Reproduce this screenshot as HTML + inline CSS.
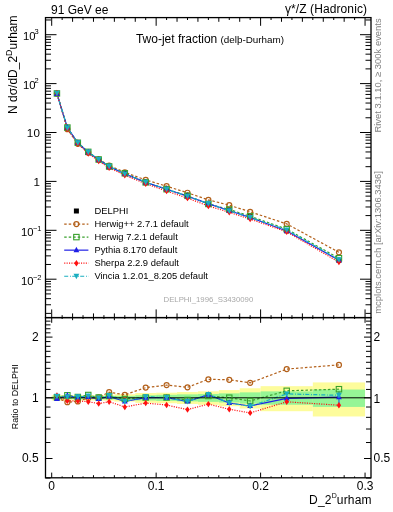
<!DOCTYPE html><html><head><meta charset="utf-8"><style>html,body{margin:0;padding:0;background:#fff;overflow:hidden}svg{display:block;will-change:transform}text{font-family:"Liberation Sans",sans-serif;fill:#000}</style></head><body>
<svg width="393" height="512" viewBox="0 0 393 512">
<rect x="51.7" y="395.21" width="10.45" height="5.26" fill="#fdfc9c"/>
<rect x="62.15" y="395.21" width="10.45" height="5.26" fill="#fdfc9c"/>
<rect x="72.59" y="395.21" width="10.44" height="5.26" fill="#fdfc9c"/>
<rect x="83.03" y="395.21" width="10.45" height="5.26" fill="#fdfc9c"/>
<rect x="93.48" y="395.21" width="10.45" height="5.26" fill="#fdfc9c"/>
<rect x="103.93" y="395.04" width="10.44" height="5.61" fill="#fdfc9c"/>
<rect x="114.37" y="394.2" width="20.89" height="7.36" fill="#fdfc9c"/>
<rect x="135.26" y="393.03" width="20.89" height="9.82" fill="#fdfc9c"/>
<rect x="156.15" y="392.7" width="20.89" height="10.52" fill="#fdfc9c"/>
<rect x="177.04" y="392.04" width="20.89" height="11.93" fill="#fdfc9c"/>
<rect x="197.93" y="391.3" width="20.89" height="13.51" fill="#fdfc9c"/>
<rect x="218.82" y="390.09" width="20.89" height="16.16" fill="#fdfc9c"/>
<rect x="239.71" y="388.27" width="20.89" height="20.23" fill="#fdfc9c"/>
<rect x="260.6" y="386.17" width="52.22" height="25.04" fill="#fdfc9c"/>
<rect x="312.82" y="382.42" width="52.22" height="34.05" fill="#fdfc9c"/>
<rect x="51.7" y="396.5" width="10.45" height="2.63" fill="#96f596"/>
<rect x="62.15" y="396.5" width="10.45" height="2.63" fill="#96f596"/>
<rect x="72.59" y="396.5" width="10.44" height="2.63" fill="#96f596"/>
<rect x="83.03" y="396.5" width="10.45" height="2.63" fill="#96f596"/>
<rect x="93.48" y="396.41" width="10.45" height="2.8" fill="#96f596"/>
<rect x="103.93" y="396.32" width="10.44" height="2.98" fill="#96f596"/>
<rect x="114.37" y="395.89" width="20.89" height="3.85" fill="#96f596"/>
<rect x="135.26" y="395.21" width="20.89" height="5.26" fill="#96f596"/>
<rect x="156.15" y="394.79" width="20.89" height="6.13" fill="#96f596"/>
<rect x="177.04" y="394.37" width="20.89" height="7.01" fill="#96f596"/>
<rect x="197.93" y="393.95" width="20.89" height="7.89" fill="#96f596"/>
<rect x="218.82" y="393.36" width="20.89" height="9.12" fill="#96f596"/>
<rect x="239.71" y="392.37" width="20.89" height="11.22" fill="#96f596"/>
<rect x="260.6" y="391.39" width="52.22" height="13.34" fill="#96f596"/>
<rect x="312.82" y="389.53" width="52.22" height="17.4" fill="#96f596"/>
<line x1="338.94" y1="391.6" x2="338.94" y2="402.9" stroke="#1f6fe0" stroke-width="1.2"/>
<g>
<polyline points="56.92,398 67.37,402.2 77.81,401.4 88.26,398 98.7,397.3 109.15,392.2 124.82,394.8 145.7,387.6 166.59,385.1 187.49,387.3 208.38,379.3 229.27,379.8 250.16,382.8 286.71,369.1 338.94,364.9" fill="none" stroke="#b3601a" stroke-width="1.2" stroke-dasharray="2.5,2"/>
<polyline points="56.92,397.3 67.37,395.3 77.81,397 88.26,395 98.7,397.5 109.15,396 124.82,399 145.7,397.5 166.59,397.5 187.49,400 208.38,396 229.27,397.7 250.16,401 286.71,390.8 338.94,389.2" fill="none" stroke="#38a02c" stroke-width="1.2" stroke-dasharray="2.5,2"/>
<polyline points="56.92,399 67.37,395.5 77.81,397.5 88.26,397 98.7,399 109.15,396.5 124.82,401.5 145.7,397.7 166.59,397.7 187.49,401.5 208.38,394.7 229.27,403 250.16,406 286.71,398.3 338.94,397.2" fill="none" stroke="#1f1fe6" stroke-width="1.2"/>
<polyline points="56.92,395.5 67.37,400.9 77.81,400.9 88.26,401.7 98.7,403.6 109.15,401.7 124.82,407 145.7,403.1 166.59,405 187.49,409.6 208.38,404.1 229.27,409.3 250.16,412.9 286.71,401.8 338.94,405.2" fill="none" stroke="#ff1010" stroke-width="1.2" stroke-dasharray="1.1,1.3"/>
<polyline points="56.92,396.3 67.37,396.8 77.81,396.8 88.26,396 98.7,397.9 109.15,395.4 124.82,401.4 145.7,396.8 166.59,397.5 187.49,401.5 208.38,394.5 229.27,403 250.16,406.3 286.71,393.9 338.94,395.3" fill="none" stroke="#19aec0" stroke-width="1.2" stroke-dasharray="4,1.8,0.9,1.3"/>
<line x1="45.5" y1="397.8" x2="371" y2="397.8" stroke="#000" stroke-width="1"/>
<circle cx="56.92" cy="398" r="2.5" fill="none" stroke="#b3601a" stroke-width="1.2"/>
<circle cx="67.37" cy="402.2" r="2.5" fill="none" stroke="#b3601a" stroke-width="1.2"/>
<circle cx="77.81" cy="401.4" r="2.5" fill="none" stroke="#b3601a" stroke-width="1.2"/>
<circle cx="88.26" cy="398" r="2.5" fill="none" stroke="#b3601a" stroke-width="1.2"/>
<circle cx="98.7" cy="397.3" r="2.5" fill="none" stroke="#b3601a" stroke-width="1.2"/>
<circle cx="109.15" cy="392.2" r="2.5" fill="none" stroke="#b3601a" stroke-width="1.2"/>
<circle cx="124.82" cy="394.8" r="2.5" fill="none" stroke="#b3601a" stroke-width="1.2"/>
<circle cx="145.7" cy="387.6" r="2.5" fill="none" stroke="#b3601a" stroke-width="1.2"/>
<circle cx="166.59" cy="385.1" r="2.5" fill="none" stroke="#b3601a" stroke-width="1.2"/>
<circle cx="187.49" cy="387.3" r="2.5" fill="none" stroke="#b3601a" stroke-width="1.2"/>
<circle cx="208.38" cy="379.3" r="2.5" fill="none" stroke="#b3601a" stroke-width="1.2"/>
<circle cx="229.27" cy="379.8" r="2.5" fill="none" stroke="#b3601a" stroke-width="1.2"/>
<circle cx="250.16" cy="382.8" r="2.5" fill="none" stroke="#b3601a" stroke-width="1.2"/>
<circle cx="286.71" cy="369.1" r="2.5" fill="none" stroke="#b3601a" stroke-width="1.2"/>
<circle cx="338.94" cy="364.9" r="2.5" fill="none" stroke="#b3601a" stroke-width="1.2"/>
<rect x="54.22" y="394.6" width="5.4" height="5.4" fill="none" stroke="#38a02c" stroke-width="1.1"/>
<rect x="64.67" y="392.6" width="5.4" height="5.4" fill="none" stroke="#38a02c" stroke-width="1.1"/>
<rect x="75.11" y="394.3" width="5.4" height="5.4" fill="none" stroke="#38a02c" stroke-width="1.1"/>
<rect x="85.56" y="392.3" width="5.4" height="5.4" fill="none" stroke="#38a02c" stroke-width="1.1"/>
<rect x="96" y="394.8" width="5.4" height="5.4" fill="none" stroke="#38a02c" stroke-width="1.1"/>
<rect x="106.45" y="393.3" width="5.4" height="5.4" fill="none" stroke="#38a02c" stroke-width="1.1"/>
<rect x="122.12" y="396.3" width="5.4" height="5.4" fill="none" stroke="#38a02c" stroke-width="1.1"/>
<rect x="143" y="394.8" width="5.4" height="5.4" fill="none" stroke="#38a02c" stroke-width="1.1"/>
<rect x="163.9" y="394.8" width="5.4" height="5.4" fill="none" stroke="#38a02c" stroke-width="1.1"/>
<rect x="184.79" y="397.3" width="5.4" height="5.4" fill="none" stroke="#38a02c" stroke-width="1.1"/>
<rect x="205.68" y="393.3" width="5.4" height="5.4" fill="none" stroke="#38a02c" stroke-width="1.1"/>
<rect x="226.57" y="395" width="5.4" height="5.4" fill="none" stroke="#38a02c" stroke-width="1.1"/>
<rect x="247.46" y="398.3" width="5.4" height="5.4" fill="none" stroke="#38a02c" stroke-width="1.1"/>
<rect x="284.01" y="388.1" width="5.4" height="5.4" fill="none" stroke="#38a02c" stroke-width="1.1"/>
<rect x="336.24" y="386.5" width="5.4" height="5.4" fill="none" stroke="#38a02c" stroke-width="1.1"/>
<path d="M56.92 395.5l2.9 5.6h-5.8z" fill="#1f1fe6"/>
<path d="M67.37 392l2.9 5.6h-5.8z" fill="#1f1fe6"/>
<path d="M77.81 394l2.9 5.6h-5.8z" fill="#1f1fe6"/>
<path d="M88.26 393.5l2.9 5.6h-5.8z" fill="#1f1fe6"/>
<path d="M98.7 395.5l2.9 5.6h-5.8z" fill="#1f1fe6"/>
<path d="M109.15 393l2.9 5.6h-5.8z" fill="#1f1fe6"/>
<path d="M124.82 398l2.9 5.6h-5.8z" fill="#1f1fe6"/>
<path d="M145.7 394.2l2.9 5.6h-5.8z" fill="#1f1fe6"/>
<path d="M166.59 394.2l2.9 5.6h-5.8z" fill="#1f1fe6"/>
<path d="M187.49 398l2.9 5.6h-5.8z" fill="#1f1fe6"/>
<path d="M208.38 391.2l2.9 5.6h-5.8z" fill="#1f1fe6"/>
<path d="M229.27 399.5l2.9 5.6h-5.8z" fill="#1f1fe6"/>
<path d="M250.16 402.5l2.9 5.6h-5.8z" fill="#1f1fe6"/>
<path d="M286.71 394.8l2.9 5.6h-5.8z" fill="#1f1fe6"/>
<path d="M338.94 393.7l2.9 5.6h-5.8z" fill="#1f1fe6"/>
<path d="M56.92 392.3l2.2 3.2l-2.2 3.2l-2.2-3.2z" fill="#ff1010"/>
<path d="M67.37 397.7l2.2 3.2l-2.2 3.2l-2.2-3.2z" fill="#ff1010"/>
<path d="M77.81 397.7l2.2 3.2l-2.2 3.2l-2.2-3.2z" fill="#ff1010"/>
<path d="M88.26 398.5l2.2 3.2l-2.2 3.2l-2.2-3.2z" fill="#ff1010"/>
<path d="M98.7 400.4l2.2 3.2l-2.2 3.2l-2.2-3.2z" fill="#ff1010"/>
<path d="M109.15 398.5l2.2 3.2l-2.2 3.2l-2.2-3.2z" fill="#ff1010"/>
<path d="M124.82 403.8l2.2 3.2l-2.2 3.2l-2.2-3.2z" fill="#ff1010"/>
<path d="M145.7 399.9l2.2 3.2l-2.2 3.2l-2.2-3.2z" fill="#ff1010"/>
<path d="M166.59 401.8l2.2 3.2l-2.2 3.2l-2.2-3.2z" fill="#ff1010"/>
<path d="M187.49 406.4l2.2 3.2l-2.2 3.2l-2.2-3.2z" fill="#ff1010"/>
<path d="M208.38 400.9l2.2 3.2l-2.2 3.2l-2.2-3.2z" fill="#ff1010"/>
<path d="M229.27 406.1l2.2 3.2l-2.2 3.2l-2.2-3.2z" fill="#ff1010"/>
<path d="M250.16 409.7l2.2 3.2l-2.2 3.2l-2.2-3.2z" fill="#ff1010"/>
<path d="M286.71 398.6l2.2 3.2l-2.2 3.2l-2.2-3.2z" fill="#ff1010"/>
<path d="M338.94 402l2.2 3.2l-2.2 3.2l-2.2-3.2z" fill="#ff1010"/>
<path d="M56.92 399.4l2.9 -5.6h-5.8z" fill="#19aec0"/>
<path d="M67.37 399.9l2.9 -5.6h-5.8z" fill="#19aec0"/>
<path d="M77.81 399.9l2.9 -5.6h-5.8z" fill="#19aec0"/>
<path d="M88.26 399.1l2.9 -5.6h-5.8z" fill="#19aec0"/>
<path d="M98.7 401l2.9 -5.6h-5.8z" fill="#19aec0"/>
<path d="M109.15 398.5l2.9 -5.6h-5.8z" fill="#19aec0"/>
<path d="M124.82 404.5l2.9 -5.6h-5.8z" fill="#19aec0"/>
<path d="M145.7 399.9l2.9 -5.6h-5.8z" fill="#19aec0"/>
<path d="M166.59 400.6l2.9 -5.6h-5.8z" fill="#19aec0"/>
<path d="M187.49 404.6l2.9 -5.6h-5.8z" fill="#19aec0"/>
<path d="M208.38 397.6l2.9 -5.6h-5.8z" fill="#19aec0"/>
<path d="M229.27 406.1l2.9 -5.6h-5.8z" fill="#19aec0"/>
<path d="M250.16 409.4l2.9 -5.6h-5.8z" fill="#19aec0"/>
<path d="M286.71 397l2.9 -5.6h-5.8z" fill="#19aec0"/>
<path d="M338.94 398.4l2.9 -5.6h-5.8z" fill="#19aec0"/>
</g>
<g>
<rect x="54.42" y="91.06" width="5" height="5" fill="#000"/>
<rect x="64.87" y="125.64" width="5" height="5" fill="#000"/>
<rect x="75.31" y="140.44" width="5" height="5" fill="#000"/>
<rect x="85.76" y="150.04" width="5" height="5" fill="#000"/>
<rect x="96.2" y="157.08" width="5" height="5" fill="#000"/>
<rect x="106.65" y="164.38" width="5" height="5" fill="#000"/>
<rect x="122.32" y="170.53" width="5" height="5" fill="#000"/>
<rect x="143.2" y="179.94" width="5" height="5" fill="#000"/>
<rect x="164.09" y="186.77" width="5" height="5" fill="#000"/>
<rect x="184.99" y="192.8" width="5" height="5" fill="#000"/>
<rect x="205.88" y="201.9" width="5" height="5" fill="#000"/>
<rect x="226.77" y="207.04" width="5" height="5" fill="#000"/>
<rect x="247.66" y="212.94" width="5" height="5" fill="#000"/>
<rect x="284.21" y="228.35" width="5" height="5" fill="#000"/>
<rect x="336.44" y="257.81" width="5" height="5" fill="#000"/>
<polyline points="56.92,93.61 67.37,129.21 77.81,143.82 88.26,152.59 98.7,159.45 109.15,165.52 124.82,172.3 145.7,179.97 166.59,186.19 187.49,192.76 208.38,199.91 229.27,205.17 250.16,211.8 286.71,223.89 338.94,252.33" fill="none" stroke="#b3601a" stroke-width="1.2" stroke-dasharray="2.5,2"/>
<polyline points="56.92,93.44 67.37,127.54 77.81,142.75 88.26,151.86 98.7,159.5 109.15,166.45 124.82,173.32 145.7,182.37 166.59,189.2 187.49,195.84 208.38,203.96 229.27,209.51 250.16,216.21 286.71,229.15 338.94,258.22" fill="none" stroke="#38a02c" stroke-width="1.2" stroke-dasharray="2.5,2"/>
<polyline points="56.92,93.85 67.37,127.58 77.81,142.87 88.26,152.34 98.7,159.87 109.15,166.57 124.82,173.92 145.7,182.42 166.59,189.25 187.49,196.2 208.38,203.65 229.27,210.8 250.16,217.43 286.71,230.97 338.94,260.16" fill="none" stroke="#1f1fe6" stroke-width="1.2"/>
<polyline points="56.92,93.01 67.37,128.89 77.81,143.69 88.26,153.48 98.7,160.98 109.15,167.83 124.82,175.26 145.7,183.73 166.59,191.02 187.49,198.16 208.38,205.93 229.27,212.33 250.16,219.1 286.71,231.82 338.94,262.1" fill="none" stroke="#ff1010" stroke-width="1.2" stroke-dasharray="1.1,1.3"/>
<polyline points="56.92,93.2 67.37,127.9 77.81,142.7 88.26,152.1 98.7,159.6 109.15,166.3 124.82,173.9 145.7,182.2 166.59,189.2 187.49,196.2 208.38,203.6 229.27,210.8 250.16,217.5 286.71,229.9 338.94,259.7" fill="none" stroke="#19aec0" stroke-width="1.2" stroke-dasharray="4,1.8,0.9,1.3"/>
<circle cx="56.92" cy="93.61" r="2.5" fill="none" stroke="#b3601a" stroke-width="1.2"/>
<circle cx="67.37" cy="129.21" r="2.5" fill="none" stroke="#b3601a" stroke-width="1.2"/>
<circle cx="77.81" cy="143.82" r="2.5" fill="none" stroke="#b3601a" stroke-width="1.2"/>
<circle cx="88.26" cy="152.59" r="2.5" fill="none" stroke="#b3601a" stroke-width="1.2"/>
<circle cx="98.7" cy="159.45" r="2.5" fill="none" stroke="#b3601a" stroke-width="1.2"/>
<circle cx="109.15" cy="165.52" r="2.5" fill="none" stroke="#b3601a" stroke-width="1.2"/>
<circle cx="124.82" cy="172.3" r="2.5" fill="none" stroke="#b3601a" stroke-width="1.2"/>
<circle cx="145.7" cy="179.97" r="2.5" fill="none" stroke="#b3601a" stroke-width="1.2"/>
<circle cx="166.59" cy="186.19" r="2.5" fill="none" stroke="#b3601a" stroke-width="1.2"/>
<circle cx="187.49" cy="192.76" r="2.5" fill="none" stroke="#b3601a" stroke-width="1.2"/>
<circle cx="208.38" cy="199.91" r="2.5" fill="none" stroke="#b3601a" stroke-width="1.2"/>
<circle cx="229.27" cy="205.17" r="2.5" fill="none" stroke="#b3601a" stroke-width="1.2"/>
<circle cx="250.16" cy="211.8" r="2.5" fill="none" stroke="#b3601a" stroke-width="1.2"/>
<circle cx="286.71" cy="223.89" r="2.5" fill="none" stroke="#b3601a" stroke-width="1.2"/>
<circle cx="338.94" cy="252.33" r="2.5" fill="none" stroke="#b3601a" stroke-width="1.2"/>
<rect x="54.22" y="90.74" width="5.4" height="5.4" fill="none" stroke="#38a02c" stroke-width="1.1"/>
<rect x="64.67" y="124.84" width="5.4" height="5.4" fill="none" stroke="#38a02c" stroke-width="1.1"/>
<rect x="75.11" y="140.05" width="5.4" height="5.4" fill="none" stroke="#38a02c" stroke-width="1.1"/>
<rect x="85.56" y="149.16" width="5.4" height="5.4" fill="none" stroke="#38a02c" stroke-width="1.1"/>
<rect x="96" y="156.8" width="5.4" height="5.4" fill="none" stroke="#38a02c" stroke-width="1.1"/>
<rect x="106.45" y="163.75" width="5.4" height="5.4" fill="none" stroke="#38a02c" stroke-width="1.1"/>
<rect x="122.12" y="170.62" width="5.4" height="5.4" fill="none" stroke="#38a02c" stroke-width="1.1"/>
<rect x="143" y="179.67" width="5.4" height="5.4" fill="none" stroke="#38a02c" stroke-width="1.1"/>
<rect x="163.9" y="186.5" width="5.4" height="5.4" fill="none" stroke="#38a02c" stroke-width="1.1"/>
<rect x="184.79" y="193.14" width="5.4" height="5.4" fill="none" stroke="#38a02c" stroke-width="1.1"/>
<rect x="205.68" y="201.26" width="5.4" height="5.4" fill="none" stroke="#38a02c" stroke-width="1.1"/>
<rect x="226.57" y="206.81" width="5.4" height="5.4" fill="none" stroke="#38a02c" stroke-width="1.1"/>
<rect x="247.46" y="213.51" width="5.4" height="5.4" fill="none" stroke="#38a02c" stroke-width="1.1"/>
<rect x="284.01" y="226.45" width="5.4" height="5.4" fill="none" stroke="#38a02c" stroke-width="1.1"/>
<rect x="336.24" y="255.52" width="5.4" height="5.4" fill="none" stroke="#38a02c" stroke-width="1.1"/>
<path d="M56.92 90.35l2.9 5.6h-5.8z" fill="#1f1fe6"/>
<path d="M67.37 124.08l2.9 5.6h-5.8z" fill="#1f1fe6"/>
<path d="M77.81 139.37l2.9 5.6h-5.8z" fill="#1f1fe6"/>
<path d="M88.26 148.84l2.9 5.6h-5.8z" fill="#1f1fe6"/>
<path d="M98.7 156.37l2.9 5.6h-5.8z" fill="#1f1fe6"/>
<path d="M109.15 163.07l2.9 5.6h-5.8z" fill="#1f1fe6"/>
<path d="M124.82 170.42l2.9 5.6h-5.8z" fill="#1f1fe6"/>
<path d="M145.7 178.92l2.9 5.6h-5.8z" fill="#1f1fe6"/>
<path d="M166.59 185.75l2.9 5.6h-5.8z" fill="#1f1fe6"/>
<path d="M187.49 192.7l2.9 5.6h-5.8z" fill="#1f1fe6"/>
<path d="M208.38 200.15l2.9 5.6h-5.8z" fill="#1f1fe6"/>
<path d="M229.27 207.3l2.9 5.6h-5.8z" fill="#1f1fe6"/>
<path d="M250.16 213.93l2.9 5.6h-5.8z" fill="#1f1fe6"/>
<path d="M286.71 227.47l2.9 5.6h-5.8z" fill="#1f1fe6"/>
<path d="M338.94 256.66l2.9 5.6h-5.8z" fill="#1f1fe6"/>
<path d="M56.92 89.81l2.2 3.2l-2.2 3.2l-2.2-3.2z" fill="#ff1010"/>
<path d="M67.37 125.69l2.2 3.2l-2.2 3.2l-2.2-3.2z" fill="#ff1010"/>
<path d="M77.81 140.49l2.2 3.2l-2.2 3.2l-2.2-3.2z" fill="#ff1010"/>
<path d="M88.26 150.28l2.2 3.2l-2.2 3.2l-2.2-3.2z" fill="#ff1010"/>
<path d="M98.7 157.78l2.2 3.2l-2.2 3.2l-2.2-3.2z" fill="#ff1010"/>
<path d="M109.15 164.63l2.2 3.2l-2.2 3.2l-2.2-3.2z" fill="#ff1010"/>
<path d="M124.82 172.06l2.2 3.2l-2.2 3.2l-2.2-3.2z" fill="#ff1010"/>
<path d="M145.7 180.53l2.2 3.2l-2.2 3.2l-2.2-3.2z" fill="#ff1010"/>
<path d="M166.59 187.82l2.2 3.2l-2.2 3.2l-2.2-3.2z" fill="#ff1010"/>
<path d="M187.49 194.96l2.2 3.2l-2.2 3.2l-2.2-3.2z" fill="#ff1010"/>
<path d="M208.38 202.73l2.2 3.2l-2.2 3.2l-2.2-3.2z" fill="#ff1010"/>
<path d="M229.27 209.13l2.2 3.2l-2.2 3.2l-2.2-3.2z" fill="#ff1010"/>
<path d="M250.16 215.9l2.2 3.2l-2.2 3.2l-2.2-3.2z" fill="#ff1010"/>
<path d="M286.71 228.62l2.2 3.2l-2.2 3.2l-2.2-3.2z" fill="#ff1010"/>
<path d="M338.94 258.9l2.2 3.2l-2.2 3.2l-2.2-3.2z" fill="#ff1010"/>
<path d="M56.92 96.3l2.9 -5.6h-5.8z" fill="#19aec0"/>
<path d="M67.37 131l2.9 -5.6h-5.8z" fill="#19aec0"/>
<path d="M77.81 145.8l2.9 -5.6h-5.8z" fill="#19aec0"/>
<path d="M88.26 155.2l2.9 -5.6h-5.8z" fill="#19aec0"/>
<path d="M98.7 162.7l2.9 -5.6h-5.8z" fill="#19aec0"/>
<path d="M109.15 169.4l2.9 -5.6h-5.8z" fill="#19aec0"/>
<path d="M124.82 177l2.9 -5.6h-5.8z" fill="#19aec0"/>
<path d="M145.7 185.3l2.9 -5.6h-5.8z" fill="#19aec0"/>
<path d="M166.59 192.3l2.9 -5.6h-5.8z" fill="#19aec0"/>
<path d="M187.49 199.3l2.9 -5.6h-5.8z" fill="#19aec0"/>
<path d="M208.38 206.7l2.9 -5.6h-5.8z" fill="#19aec0"/>
<path d="M229.27 213.9l2.9 -5.6h-5.8z" fill="#19aec0"/>
<path d="M250.16 220.6l2.9 -5.6h-5.8z" fill="#19aec0"/>
<path d="M286.71 233l2.9 -5.6h-5.8z" fill="#19aec0"/>
<path d="M338.94 262.8l2.9 -5.6h-5.8z" fill="#19aec0"/>
</g>
<g stroke="#000" stroke-width="1.3" fill="none">
<rect x="45.5" y="17.6" width="325.5" height="300"/>
<rect x="45.5" y="317.6" width="325.5" height="160.2"/>
</g>
<path d="M51.7 17.6L51.7 25.8M51.7 317.6L51.7 309.4M51.7 317.6L51.7 322.8M51.7 477.8L51.7 472.6M62.15 17.6L62.15 20M62.15 317.6L62.15 315.2M62.15 317.6L62.15 319M62.15 477.8L62.15 476.4M72.59 17.6L72.59 21.8M72.59 317.6L72.59 313.4M72.59 317.6L72.59 320.2M72.59 477.8L72.59 475.2M83.03 17.6L83.03 20M83.03 317.6L83.03 315.2M83.03 317.6L83.03 319M83.03 477.8L83.03 476.4M93.48 17.6L93.48 21.8M93.48 317.6L93.48 313.4M93.48 317.6L93.48 320.2M93.48 477.8L93.48 475.2M103.93 17.6L103.93 20M103.93 317.6L103.93 315.2M103.93 317.6L103.93 319M103.93 477.8L103.93 476.4M114.37 17.6L114.37 21.8M114.37 317.6L114.37 313.4M114.37 317.6L114.37 320.2M114.37 477.8L114.37 475.2M124.82 17.6L124.82 20M124.82 317.6L124.82 315.2M124.82 317.6L124.82 319M124.82 477.8L124.82 476.4M135.26 17.6L135.26 21.8M135.26 317.6L135.26 313.4M135.26 317.6L135.26 320.2M135.26 477.8L135.26 475.2M145.7 17.6L145.7 20M145.7 317.6L145.7 315.2M145.7 317.6L145.7 319M145.7 477.8L145.7 476.4M156.15 17.6L156.15 25.8M156.15 317.6L156.15 309.4M156.15 317.6L156.15 322.8M156.15 477.8L156.15 472.6M166.59 17.6L166.59 20M166.59 317.6L166.59 315.2M166.59 317.6L166.59 319M166.59 477.8L166.59 476.4M177.04 17.6L177.04 21.8M177.04 317.6L177.04 313.4M177.04 317.6L177.04 320.2M177.04 477.8L177.04 475.2M187.49 17.6L187.49 20M187.49 317.6L187.49 315.2M187.49 317.6L187.49 319M187.49 477.8L187.49 476.4M197.93 17.6L197.93 21.8M197.93 317.6L197.93 313.4M197.93 317.6L197.93 320.2M197.93 477.8L197.93 475.2M208.38 17.6L208.38 20M208.38 317.6L208.38 315.2M208.38 317.6L208.38 319M208.38 477.8L208.38 476.4M218.82 17.6L218.82 21.8M218.82 317.6L218.82 313.4M218.82 317.6L218.82 320.2M218.82 477.8L218.82 475.2M229.27 17.6L229.27 20M229.27 317.6L229.27 315.2M229.27 317.6L229.27 319M229.27 477.8L229.27 476.4M239.71 17.6L239.71 21.8M239.71 317.6L239.71 313.4M239.71 317.6L239.71 320.2M239.71 477.8L239.71 475.2M250.16 17.6L250.16 20M250.16 317.6L250.16 315.2M250.16 317.6L250.16 319M250.16 477.8L250.16 476.4M260.6 17.6L260.6 25.8M260.6 317.6L260.6 309.4M260.6 317.6L260.6 322.8M260.6 477.8L260.6 472.6M271.05 17.6L271.05 20M271.05 317.6L271.05 315.2M271.05 317.6L271.05 319M271.05 477.8L271.05 476.4M281.49 17.6L281.49 21.8M281.49 317.6L281.49 313.4M281.49 317.6L281.49 320.2M281.49 477.8L281.49 475.2M291.94 17.6L291.94 20M291.94 317.6L291.94 315.2M291.94 317.6L291.94 319M291.94 477.8L291.94 476.4M302.38 17.6L302.38 21.8M302.38 317.6L302.38 313.4M302.38 317.6L302.38 320.2M302.38 477.8L302.38 475.2M312.82 17.6L312.82 20M312.82 317.6L312.82 315.2M312.82 317.6L312.82 319M312.82 477.8L312.82 476.4M323.27 17.6L323.27 21.8M323.27 317.6L323.27 313.4M323.27 317.6L323.27 320.2M323.27 477.8L323.27 475.2M333.72 17.6L333.72 20M333.72 317.6L333.72 315.2M333.72 317.6L333.72 319M333.72 477.8L333.72 476.4M344.16 17.6L344.16 21.8M344.16 317.6L344.16 313.4M344.16 317.6L344.16 320.2M344.16 477.8L344.16 475.2M354.6 17.6L354.6 20M354.6 317.6L354.6 315.2M354.6 317.6L354.6 319M354.6 477.8L354.6 476.4M365.05 17.6L365.05 25.8M365.05 317.6L365.05 309.4M365.05 317.6L365.05 322.8M365.05 477.8L365.05 472.6M45.5 313.38L51 313.38M371 313.38L365.5 313.38M45.5 304.77L51 304.77M371 304.77L365.5 304.77M45.5 298.66L51 298.66M371 298.66L365.5 298.66M45.5 293.92L51 293.92M371 293.92L365.5 293.92M45.5 290.05L51 290.05M371 290.05L365.5 290.05M45.5 286.77L51 286.77M371 286.77L365.5 286.77M45.5 283.94L51 283.94M371 283.94L365.5 283.94M45.5 281.44L51 281.44M371 281.44L365.5 281.44M45.5 279.2L56.5 279.2M371 279.2L360 279.2M45.5 264.48L51 264.48M371 264.48L365.5 264.48M45.5 255.87L51 255.87M371 255.87L365.5 255.87M45.5 249.76L51 249.76M371 249.76L365.5 249.76M45.5 245.02L51 245.02M371 245.02L365.5 245.02M45.5 241.15L51 241.15M371 241.15L365.5 241.15M45.5 237.87L51 237.87M371 237.87L365.5 237.87M45.5 235.04L51 235.04M371 235.04L365.5 235.04M45.5 232.54L51 232.54M371 232.54L365.5 232.54M45.5 230.3L56.5 230.3M371 230.3L360 230.3M45.5 215.58L51 215.58M371 215.58L365.5 215.58M45.5 206.97L51 206.97M371 206.97L365.5 206.97M45.5 200.86L51 200.86M371 200.86L365.5 200.86M45.5 196.12L51 196.12M371 196.12L365.5 196.12M45.5 192.25L51 192.25M371 192.25L365.5 192.25M45.5 188.97L51 188.97M371 188.97L365.5 188.97M45.5 186.14L51 186.14M371 186.14L365.5 186.14M45.5 183.64L51 183.64M371 183.64L365.5 183.64M45.5 181.4L56.5 181.4M371 181.4L360 181.4M45.5 166.68L51 166.68M371 166.68L365.5 166.68M45.5 158.07L51 158.07M371 158.07L365.5 158.07M45.5 151.96L51 151.96M371 151.96L365.5 151.96M45.5 147.22L51 147.22M371 147.22L365.5 147.22M45.5 143.35L51 143.35M371 143.35L365.5 143.35M45.5 140.07L51 140.07M371 140.07L365.5 140.07M45.5 137.24L51 137.24M371 137.24L365.5 137.24M45.5 134.74L51 134.74M371 134.74L365.5 134.74M45.5 132.5L56.5 132.5M371 132.5L360 132.5M45.5 117.78L51 117.78M371 117.78L365.5 117.78M45.5 109.17L51 109.17M371 109.17L365.5 109.17M45.5 103.06L51 103.06M371 103.06L365.5 103.06M45.5 98.32L51 98.32M371 98.32L365.5 98.32M45.5 94.45L51 94.45M371 94.45L365.5 94.45M45.5 91.17L51 91.17M371 91.17L365.5 91.17M45.5 88.34L51 88.34M371 88.34L365.5 88.34M45.5 85.84L51 85.84M371 85.84L365.5 85.84M45.5 83.6L56.5 83.6M371 83.6L360 83.6M45.5 68.88L51 68.88M371 68.88L365.5 68.88M45.5 60.27L51 60.27M371 60.27L365.5 60.27M45.5 54.16L51 54.16M371 54.16L365.5 54.16M45.5 49.42L51 49.42M371 49.42L365.5 49.42M45.5 45.55L51 45.55M371 45.55L365.5 45.55M45.5 42.27L51 42.27M371 42.27L365.5 42.27M45.5 39.44L51 39.44M371 39.44L365.5 39.44M45.5 36.94L51 36.94M371 36.94L365.5 36.94M45.5 34.7L56.5 34.7M371 34.7L360 34.7M45.5 19.98L51 19.98M371 19.98L365.5 19.98M45.5 478.04L50.5 478.04M371 478.04L366 478.04M45.5 458.5L52.5 458.5M371 458.5L364 458.5M45.5 442.53L50.5 442.53M371 442.53L366 442.53M45.5 429.03L50.5 429.03M371 429.03L366 429.03M45.5 417.34L50.5 417.34M371 417.34L366 417.34M45.5 407.03L50.5 407.03M371 407.03L366 407.03M45.5 397.8L52.5 397.8M371 397.8L364 397.8M45.5 389.45L50.5 389.45M371 389.45L366 389.45M45.5 381.83L50.5 381.83M371 381.83L366 381.83M45.5 374.82L50.5 374.82M371 374.82L366 374.82M45.5 368.33L50.5 368.33M371 368.33L366 368.33M45.5 362.29L50.5 362.29M371 362.29L366 362.29M45.5 356.64L50.5 356.64M371 356.64L366 356.64M45.5 351.33L50.5 351.33M371 351.33L366 351.33M45.5 346.33L50.5 346.33M371 346.33L366 346.33M45.5 341.59L50.5 341.59M371 341.59L366 341.59M45.5 337.1L52.5 337.1M371 337.1L364 337.1M45.5 332.83L50.5 332.83M371 332.83L366 332.83M45.5 328.75L50.5 328.75M371 328.75L366 328.75M45.5 324.86L50.5 324.86M371 324.86L366 324.86M45.5 321.13L50.5 321.13M371 321.13L366 321.13M45.5 317.56L50.5 317.56M371 317.56L366 317.56" stroke="#000" stroke-width="1" fill="none"/>
<text x="51" y="14.1" font-size="12">91 GeV ee</text>
<text x="367.1" y="13.1" font-size="12" text-anchor="end" letter-spacing="0.1">γ*/Z (Hadronic)</text>
<text x="135.9" y="43.3" font-size="12">Two-jet fraction <tspan font-size="9.85">(delþ-Durham)</tspan></text>
<text x="35.6" y="40" font-size="11.3" text-anchor="end">10</text>
<text x="34.5" y="34" font-size="7.5">3</text>
<text x="35.6" y="88.9" font-size="11.3" text-anchor="end">10</text>
<text x="34.5" y="82.9" font-size="7.5">2</text>
<text x="40.4" y="136.9" font-size="11.6" text-anchor="end" letter-spacing="0.4">10</text>
<text x="40.4" y="185.8" font-size="11.6" text-anchor="end" letter-spacing="0.4">1</text>
<text x="33.5" y="235.7" font-size="11.3" text-anchor="end">10</text>
<text x="32.9" y="230.6" font-size="7.5">−1</text>
<text x="33.5" y="284.6" font-size="11.3" text-anchor="end">10</text>
<text x="32.9" y="279.5" font-size="7.5">−2</text>
<text x="38.6" y="340.8" font-size="12" text-anchor="end">2</text>
<text x="373.5" y="340.8" font-size="12">2</text>
<text x="38.6" y="401.5" font-size="12" text-anchor="end">1</text>
<text x="373.5" y="402.8" font-size="12">1</text>
<text x="38.6" y="462.2" font-size="12" text-anchor="end">0.5</text>
<text x="373.5" y="462.2" font-size="12">0.5</text>
<text x="51.7" y="489.6" font-size="12" text-anchor="middle">0</text>
<text x="156.15" y="489.6" font-size="12" text-anchor="middle">0.1</text>
<text x="260.6" y="489.6" font-size="12" text-anchor="middle">0.2</text>
<text x="365.05" y="489.6" font-size="12" text-anchor="middle">0.3</text>
<text x="309.1" y="504.3" font-size="12" letter-spacing="0.2">D_2<tspan font-size="7" dy="-6.1" letter-spacing="0">D</tspan><tspan dy="6.1">urham</tspan></text>
<text transform="translate(16.9,114) rotate(-90)" font-size="12">N dσ/dD_2<tspan font-size="8.8" dy="-5.3">D</tspan><tspan dy="5.3">urham</tspan></text>
<text transform="translate(17.9,429.2) rotate(-90)" font-size="8.85">Ratio to DELPHI</text>
<text x="163.5" y="301.8" font-size="7.8" style="fill:#a8a8a8">DELPHI_1996_S3430090</text>
<text transform="translate(381,132.6) rotate(-90)" font-size="9.45" style="fill:#808080">Rivet 3.1.10, ≥ 300k events</text>
<text transform="translate(381,313.8) rotate(-90)" font-size="9.45" style="fill:#808080">mcplots.cern.ch [arXiv:1306.3436]</text>
<rect x="73.9" y="208.5" width="5" height="5" fill="#000"/>
<text x="94.4" y="214.1" font-size="9.4">DELPHI</text>
<polyline points="64.2,224.05 88.4,224.05" fill="none" stroke="#b3601a" stroke-width="1.2" stroke-dasharray="2.5,2"/>
<circle cx="76.4" cy="224.05" r="2.5" fill="none" stroke="#b3601a" stroke-width="1.2"/>
<text x="94.4" y="227.15" font-size="9.4">Herwig++ 2.7.1 default</text>
<polyline points="64.2,237.1 88.4,237.1" fill="none" stroke="#38a02c" stroke-width="1.2" stroke-dasharray="2.5,2"/>
<rect x="73.7" y="234.4" width="5.4" height="5.4" fill="none" stroke="#38a02c" stroke-width="1.1"/>
<text x="94.4" y="240.2" font-size="9.4">Herwig 7.2.1 default</text>
<polyline points="64.2,250.15 88.4,250.15" fill="none" stroke="#1f1fe6" stroke-width="1.2"/>
<path d="M76.4 246.65l2.9 5.6h-5.8z" fill="#1f1fe6"/>
<text x="94.4" y="253.25" font-size="9.4">Pythia 8.170 default</text>
<polyline points="64.2,263.2 88.4,263.2" fill="none" stroke="#ff1010" stroke-width="1.2" stroke-dasharray="1.1,1.3"/>
<path d="M76.4 260l2.2 3.2l-2.2 3.2l-2.2-3.2z" fill="#ff1010"/>
<text x="94.4" y="266.3" font-size="9.4">Sherpa 2.2.9 default</text>
<polyline points="64.2,276.25 88.4,276.25" fill="none" stroke="#19aec0" stroke-width="1.2" stroke-dasharray="4,1.8,0.9,1.3"/>
<path d="M76.4 279.35l2.9 -5.6h-5.8z" fill="#19aec0"/>
<text x="94.4" y="279.35" font-size="9.4">Vincia 1.2.01_8.205 default</text>
</svg></body></html>
